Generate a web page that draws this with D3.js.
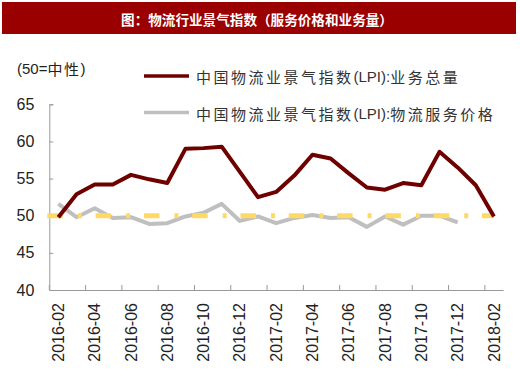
<!DOCTYPE html>
<html><head><meta charset="utf-8">
<script src="https://cdn.jsdelivr.net/npm/d3@7"></script>
<style>
html,body{margin:0;padding:0;background:#fff;}
svg{display:block;}
</style></head>
<body>
<script>
const title = "图：物流行业景气指数（服务价格和业务量）";
const unitLabel = ["(50=", "中性", ")"];
const months = ["2016-02","2016-03","2016-04","2016-05","2016-06","2016-07","2016-08","2016-09","2016-10","2016-11","2016-12","2017-01","2017-02","2017-03","2017-04","2017-05","2017-06","2017-07","2017-08","2017-09","2017-10","2017-11","2017-12","2018-01","2018-02"];
const volume = [49.8,52.9,54.2,54.2,55.5,54.9,54.4,59.0,59.1,59.3,55.9,52.5,53.2,55.4,58.2,57.7,55.7,53.8,53.5,54.4,54.1,58.6,56.5,54.1,49.9];
const price  = [51.6,49.8,51.0,49.7,49.8,48.9,49.0,49.9,50.4,51.6,49.3,49.9,49.0,49.7,50.1,49.7,49.8,48.5,49.9,48.8,50.0,50.0,49.1,null,null];
const neutral = 50;
const yTicks = [40,45,50,55,60,65];
const seriesNames = [
  ["中国物流业景气指数", "(LPI):", "业务总量"],
  ["中国物流业景气指数", "(LPI):", "物流服务价格"]
];
const colors = {volume:"#6E0000", price:"#BFBFBF", neutral:"#FFD966", title:"#9B0000"};

const W = 520, H = 379;
const svg = d3.select("body").append("svg").attr("width", W).attr("height", H);
const CJK = "'Noto Sans CJK SC', sans-serif";
const LAT = "'Liberation Sans', Arial, sans-serif";

// title bar
svg.append("rect").attr("x",2).attr("y",2).attr("width",514).attr("height",32).attr("fill",colors.title);
svg.append("text").attr("x",257).attr("y",19).attr("text-anchor","middle").attr("dominant-baseline","central")
  .attr("fill","#fff").attr("font-family",CJK).attr("font-weight","bold").attr("font-size",13.6).text(title);

const x = d3.scaleBand().domain(months).range([49.3, 503]).padding(0);
const y = d3.scaleLinear().domain([40,65]).range([290, 104.3]);

// axes
const yAxis = d3.axisLeft(y).tickValues(yTicks).tickSize(-4).tickPadding(15).tickFormat(d3.format("d"));
const gy = svg.append("g").attr("transform",`translate(${x.range()[0]},0)`).call(yAxis);
gy.select(".domain").attr("stroke","#999");
gy.selectAll(".tick line").attr("stroke","#999");
gy.selectAll("text").attr("font-family",LAT).attr("font-size",16).attr("fill","#222");

const labelMonths = months.filter((d,i)=>i%2===0);
const xAxis = d3.axisBottom(x).tickValues(labelMonths).tickSize(0).tickPadding(0);
const gx = svg.append("g").attr("transform",`translate(0,${y(40)})`).call(xAxis);
gx.select(".domain").attr("stroke","#999");
gx.selectAll("text").attr("font-family",LAT).attr("font-size",16).attr("fill","#222")
  .attr("text-anchor","end").attr("transform","rotate(-90)")
  .attr("x",-13).attr("y",0).attr("dy","0.35em");
// adjust rotated label positions: move to band center
gx.selectAll(".tick").each(function(d){
  d3.select(this).select("text").attr("dx",0);
});
// tick marks at band boundaries every 2 months
gx.selectAll(".bound").data(labelMonths).enter().append("line")
  .attr("x1",d=>x(d)).attr("x2",d=>x(d)).attr("y1",0).attr("y2",-5).attr("stroke","#999");

// lines
const line = d3.line().defined(d=>d!=null).x((d,i)=>x(months[i])+x.bandwidth()/2).y(d=>y(d));
svg.append("path").datum(price).attr("d",line).attr("fill","none").attr("stroke",colors.price).attr("stroke-width",4).attr("stroke-linejoin","round");
svg.append("line").attr("x1",x.range()[0]-2).attr("x2",x(months[months.length-1])+x.bandwidth()/2)
  .attr("y1",y(neutral)).attr("y2",y(neutral)).attr("stroke",colors.neutral).attr("stroke-width",5)
  .attr("stroke-dasharray","15.5,15,4,13.8");
svg.append("path").datum(volume).attr("d",line).attr("fill","none").attr("stroke",colors.volume).attr("stroke-width",4).attr("stroke-linejoin","round");

// unit label
const ut = svg.append("text").attr("x",17).attr("y",68).attr("dominant-baseline","central").attr("font-size",15).attr("fill","#222");
ut.append("tspan").attr("font-family",LAT).text(unitLabel[0]);
ut.append("tspan").attr("font-family",CJK).attr("letter-spacing",1.5).text(unitLabel[1]);
ut.append("tspan").attr("font-family",LAT).text(unitLabel[2]);

// legend
const legY = [76, 112.5];
const legCol = [colors.volume, colors.price];
seriesNames.forEach((parts,k)=>{
  svg.append("line").attr("x1",144).attr("x2",189).attr("y1",legY[k]).attr("y2",legY[k])
    .attr("stroke",legCol[k]).attr("stroke-width",3.5);
  const t = svg.append("text").attr("x",196).attr("y",legY[k]).attr("dominant-baseline","central").attr("font-size",15).attr("fill","#333");
  t.append("tspan").attr("font-family",CJK).attr("letter-spacing",2.5).text(parts[0]);
  t.append("tspan").attr("font-family",LAT).text(parts[1]);
  t.append("tspan").attr("font-family",CJK).attr("letter-spacing",2.5).text(parts[2]);
});
</script>
</body></html>
